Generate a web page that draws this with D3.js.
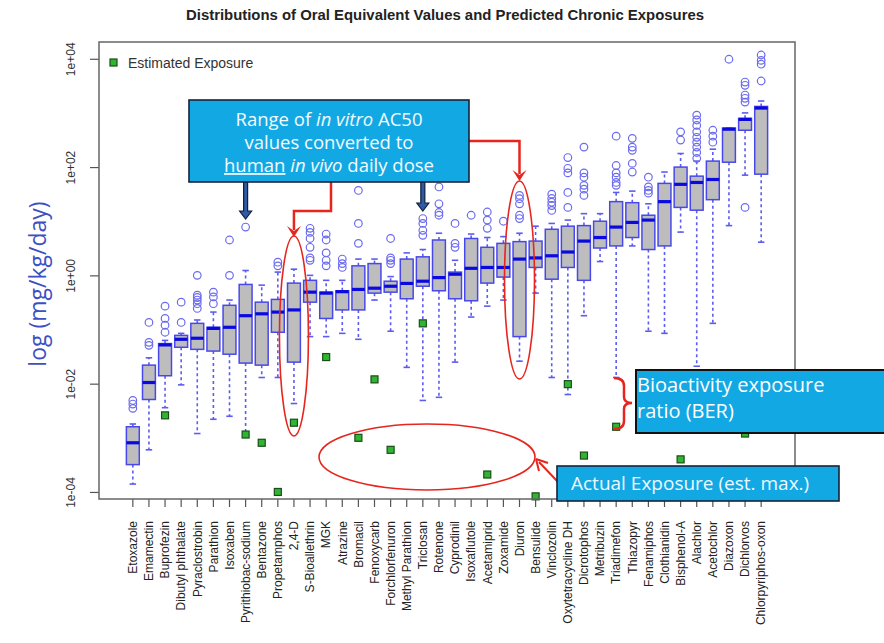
<!DOCTYPE html>
<html>
<head>
<meta charset="utf-8">
<script src="https://cdn.jsdelivr.net/npm/d3@7"></script>
<style>
  html, body { margin: 0; padding: 0; background: #fff; }
  svg { display: block; }
</style>
</head>
<body>
<svg id="chart" width="884" height="643"></svg>
<script>
// Chemicals, ordered by median oral equivalent dose
const categories = ["Etoxazole","Emamectin","Buprofezin","Dibutyl phthalate","Pyraclostrobin","Parathion","Isoxaben","Pyrithiobac-sodium","Bentazone","Propetamphos","2,4-D","S-Bioallethrin","MGK","Atrazine","Bromacil","Fenoxycarb","Forchlorfenuron","Methyl Parathion","Triclosan","Rotenone","Cyprodinil","Isoxaflutole","Acetamiprid","Zoxamide","Diuron","Bensulide","Vinclozolin","Oxytetracycline DH","Dicrotophos","Metribuzin","Triadimefon","Thiazopyr","Fenamiphos","Clothianidin","Bisphenol-A","Alachlor","Acetochlor","Diazoxon","Dichlorvos","Chlorpyriphos-oxon"];

// Box statistics, mg/kg/day
const whiskerLow = [1.4e-4,6.0e-4,3.6e-3,9.5e-3,1.2e-3,2.2e-3,2.5e-3,1.26e-3,0.013,0.013,4.3e-3,0.074,0.074,0.085,0.066,0.35,0.093,0.020,4.9e-3,5.6e-3,0.025,0.17,0.27,0.35,0.026,0.47,0.013,6.3e-3,0.18,1.8,0.013,3.5,0.093,0.085,6.3,0.021,0.13,8.3,71,4.1];
const quartile1 = [3.2e-4,5.1e-3,0.014,0.047,0.043,0.040,0.035,0.024,0.022,0.089,0.025,0.32,0.16,0.23,0.23,0.47,0.49,0.37,0.63,0.52,0.37,0.34,0.72,0.93,0.074,1.4,0.85,1.4,0.81,3.2,3.5,5.0,3.0,3.5,18,16,25,123,479,74];
const medians = [8.1e-4,0.0105,0.052,0.066,0.069,0.105,0.11,0.18,0.195,0.21,0.23,0.49,0.47,0.50,0.55,0.58,0.63,0.71,0.78,0.91,1.05,1.35,1.4,1.4,2.0,2.1,2.3,2.7,4.3,5.0,7.8,9.5,10.5,23,48,52,59,501,759,1230];
const quartile3 = [1.6e-3,0.022,0.055,0.078,0.13,0.11,0.28,0.68,0.32,0.36,0.72,0.81,0.49,0.52,1.5,1.65,0.78,2.0,2.2,4.5,1.15,4.8,3.3,3.9,4.2,4.3,7.1,8.1,8.3,10,23,22,12.9,50,100,68,129,525,794,1318];
const whiskerHigh = [1.8e-3,0.030,0.063,0.085,0.15,0.21,0.35,1.23,0.66,1.15,1.3,1.0,0.81,0.81,2.0,2.0,0.95,2.6,3.0,6.0,1.9,5.8,5.0,5.2,6.0,8.1,9.1,10.5,13.8,13.8,34,36,21,81,178,129,214,525,1000,1660];
const outliers = [
  [3.5e-3,4.2e-3,4.9e-3],
  [0.051,0.058,0.135],
  [0.089,0.12,0.16,0.27],
  [0.135,0.32],
  [0.245,0.30,0.35,0.39,0.43,1.0],
  [0.30,0.40,0.49],
  [1.0,4.5],
  [7.8],
  [],
  [1.5,1.75],
  [],
  [1.9,2.1,3.3,4.8,6.2,7.4],
  [1.5,1.9,2.6,4.5,5.8],
  [1.4,1.65,2.0],
  [3.9,9.1,37],
  [],
  [1.65,1.9,2.1,4.8],
  [],
  [5.5,6.8,9.1,11.2],
  [12.9,14.5,21,43],
  [3.3,3.9,9.1],
  [12.9],
  [7.4,10.5,14.8],
  [10],
  [11.2,12.9,21,26,30],
  [],
  [15.8,19.5,22.4,26.3,31.6],
  [18,34,78,95,150],
  [30,39,46,65,78,234],
  [],
  [46,52,65,78,107,372],
  [81,117,204,234,339],
  [33,37,43,65],
  [],
  [316,447],
  [145,186,234,288,355,447,589,741,912],
  [288,372,479],
  [9800],
  [18,1585,1862,2138,3236,3715],
  [3890,7940,9330,11750]
];
// Estimated (actual) exposure, mg/kg/day; null where none was estimated
const estimatedExposure = [null,null,2.6e-3,null,null,null,null,1.15e-3,8.1e-4,1.0e-4,1.9e-3,null,0.031,null,1.0e-3,0.012,6.0e-4,null,0.13,null,null,null,2.1e-4,null,null,8.3e-5,null,9.8e-3,4.7e-4,null,1.6e-3,null,null,null,4.0e-4,null,null,null,1.2e-3,null];
const yTicks = [1e-4, 1e-2, 1, 1e2, 1e4];
const yTickLabels = ["1e-04", "1e-02", "1e+00", "1e+02", "1e+04"];

const svg = d3.select("#chart");
const plot = { left: 99, top: 42, right: 795, bottom: 499 };

const x = d3.scaleBand()
  .domain(categories)
  .range([plot.left, plot.right])
  .paddingInner(0.2)
  .paddingOuter(1.7);
const bw = x.bandwidth();
const cx = d => x(d) + bw / 2;

const y = d3.scaleLog()
  .domain([Math.pow(10, -4.13), Math.pow(10, 4.31)])
  .range([plot.bottom, plot.top]);

// Title
svg.append("text")
  .attr("x", 445).attr("y", 20)
  .attr("text-anchor", "middle")
  .attr("textLength", 518)
  .attr("lengthAdjust", "spacingAndGlyphs")
  .style("font-family", "Liberation Sans Narrow, Liberation Sans, Arial, sans-serif")
  .style("font-weight", "bold")
  .style("font-size", "14px")
  .attr("fill", "#222")
  .text("Distributions of Oral Equivalent Values and Predicted Chronic Exposures");

// Axes
const yAxis = svg.append("g")
  .attr("transform", `translate(${plot.left},0)`)
  .call(d3.axisLeft(y).tickValues(yTicks).tickSize(9)
    .tickFormat((d, i) => yTickLabels[i]));
yAxis.select(".domain").remove();
yAxis.selectAll("line").attr("stroke", "#555").attr("stroke-width", 1.2);
yAxis.selectAll("text")
  .attr("transform", "rotate(-90)")
  .attr("x", 0).attr("y", -24).attr("dy", 0)
  .style("text-anchor", "middle")
  .style("font-family", "Liberation Sans, Arial, sans-serif")
  .style("font-size", "12px")
  .attr("fill", "#333");

const xAxis = svg.append("g")
  .attr("transform", `translate(0,${plot.bottom})`)
  .call(d3.axisBottom(x).tickSize(8));
xAxis.select(".domain").remove();
xAxis.selectAll("line").attr("stroke", "#555").attr("stroke-width", 1.2);
xAxis.selectAll("text")
  .attr("transform", "rotate(-90)")
  .attr("x", -22).attr("y", 0).attr("dy", "0.36em")
  .style("text-anchor", "end")
  .style("font-family", "Liberation Sans, Arial, sans-serif")
  .style("font-size", "12px")
  .attr("fill", "#222");

// Y axis title
svg.append("text")
  .attr("transform", "translate(46,284) rotate(-90)")
  .attr("text-anchor", "middle")
  .style("font-family", "'Open Sans', Lato, sans-serif")
  .style("font-size", "23px")
  .attr("fill", "#3d4fc2")
  .text("log (mg/kg/day)");

// Box plots
const boxData = categories.map((c, i) => ({
  c, lo: whiskerLow[i], q1: quartile1[i], med: medians[i], q3: quartile3[i],
  hi: whiskerHigh[i], out: outliers[i], exp: estimatedExposure[i]
}));
const g = svg.append("g");
const whiskerColor = "#5c5cf0";

g.selectAll(".whisker-lo").data(boxData).join("line")
  .attr("x1", d => cx(d.c)).attr("x2", d => cx(d.c))
  .attr("y1", d => y(d.q1)).attr("y2", d => y(d.lo))
  .attr("stroke", whiskerColor).attr("stroke-width", 1.6).attr("stroke-dasharray", "3,3");
g.selectAll(".whisker-hi").data(boxData).join("line")
  .attr("x1", d => cx(d.c)).attr("x2", d => cx(d.c))
  .attr("y1", d => y(d.q3)).attr("y2", d => y(d.hi))
  .attr("stroke", whiskerColor).attr("stroke-width", 1.6).attr("stroke-dasharray", "3,3");
["lo", "hi"].forEach(k => {
  g.selectAll(".staple-" + k).data(boxData).join("line")
    .attr("x1", d => cx(d.c) - bw / 4).attr("x2", d => cx(d.c) + bw / 4)
    .attr("y1", d => y(d[k])).attr("y2", d => y(d[k]))
    .attr("stroke", whiskerColor).attr("stroke-width", 1.6);
});
g.selectAll(".box").data(boxData).join("rect")
  .attr("x", d => x(d.c)).attr("width", bw)
  .attr("y", d => y(d.q3)).attr("height", d => Math.max(1, y(d.q1) - y(d.q3)))
  .attr("fill", "#bdbdbd").attr("stroke", "#4848ea").attr("stroke-width", 1.5);
g.selectAll(".median").data(boxData).join("line")
  .attr("x1", d => x(d.c)).attr("x2", d => x(d.c) + bw)
  .attr("y1", d => y(d.med)).attr("y2", d => y(d.med))
  .attr("stroke", "#0a0ae0").attr("stroke-width", 3.2);
g.selectAll(".outliers").data(boxData).join("g")
  .selectAll("circle").data(d => d.out.map(v => ({ c: d.c, v })))
  .join("circle")
  .attr("cx", d => cx(d.c)).attr("cy", d => y(d.v)).attr("r", 3.8)
  .attr("fill", "none").attr("stroke", "#6b6bf0").attr("stroke-width", 1.2);

// Estimated exposure markers
g.selectAll(".exposure").data(boxData.filter(d => d.exp != null)).join("rect")
  .attr("x", d => cx(d.c) - 3.5).attr("y", d => y(d.exp) - 3.5)
  .attr("width", 7).attr("height", 7)
  .attr("fill", "#2fb52f").attr("stroke", "#1b4d1b").attr("stroke-width", 1.2);

// Plot frame
svg.append("rect")
  .attr("x", plot.left).attr("y", plot.top)
  .attr("width", plot.right - plot.left).attr("height", plot.bottom - plot.top)
  .attr("fill", "none").attr("stroke", "#666").attr("stroke-width", 1.5);

// Legend
svg.append("rect").attr("x", 110).attr("y", 59).attr("width", 7).attr("height", 7)
  .attr("fill", "#2fb52f").attr("stroke", "#1b4d1b").attr("stroke-width", 1.2);
svg.append("text").attr("x", 128).attr("y", 68)
  .style("font-family", "Liberation Sans, Arial, sans-serif").style("font-size", "14px")
  .attr("fill", "#333").text("Estimated Exposure");

// Annotations
const ann = svg.append("g");
const red = "#e6261e";
const calloutFill = "#12a8e3";
const calloutFont = "'Open Sans', Lato, sans-serif";

// red ellipses around highlighted distributions
const i24D = cx("2,4-D"), iDiuron = cx("Diuron");
ann.append("ellipse").attr("cx", i24D).attr("cy", 336).attr("rx", 14.5).attr("ry", 100)
  .attr("fill", "none").attr("stroke", red).attr("stroke-width", 1.6);
ann.append("ellipse").attr("cx", iDiuron).attr("cy", 280).attr("rx", 15).attr("ry", 99)
  .attr("fill", "none").attr("stroke", red).attr("stroke-width", 1.6);
ann.append("ellipse").attr("cx", 427).attr("cy", 457).attr("rx", 108).attr("ry", 33)
  .attr("fill", "none").attr("stroke", red).attr("stroke-width", 1.6);

// red connectors from the callout
const redHead = (tx, ty) => `M${tx - 7},${ty - 11} L${tx},${ty} L${tx + 7},${ty - 11} L${tx},${ty - 6} Z`;
ann.append("path").attr("d", `M331,182 V211 H${i24D} V230`)
  .attr("fill", "none").attr("stroke", red).attr("stroke-width", 2.5);
ann.append("path").attr("d", redHead(i24D, 237)).attr("fill", red);
ann.append("path").attr("d", `M469,141 H${iDiuron} V174`)
  .attr("fill", "none").attr("stroke", red).attr("stroke-width", 2.5);
ann.append("path").attr("d", redHead(iDiuron, 181)).attr("fill", red);

// navy arrows from the callout
[cx("Pyrithiobac-sodium"), cx("Triclosan")].forEach((ax, k) => {
  const tip = k === 0 ? 219 : 211;
  ann.append("path")
    .attr("d", `M${ax - 2},182 V${tip - 8} H${ax - 6} L${ax},${tip} L${ax + 6},${tip - 8} H${ax + 2} V182 Z`)
    .attr("fill", "#2e5aa6").attr("stroke", "#10203f").attr("stroke-width", 1.2);
});

// callout: range of AC50 values
ann.append("rect").attr("x", 189).attr("y", 100).attr("width", 280).attr("height", 82)
  .attr("fill", calloutFill).attr("stroke", "#17243a").attr("stroke-width", 1.6);
const callText = (yy) => ann.append("text").attr("x", 329).attr("y", yy).attr("text-anchor", "middle")
  .style("font-family", calloutFont).style("font-size", "18.5px").attr("fill", "#f4fbff");
const t1 = callText(126);
t1.append("tspan").text("Range of ");
t1.append("tspan").style("font-style", "italic").text("in vitro");
t1.append("tspan").text(" AC50");
callText(149).text("values converted to");
const t3 = callText(172);
t3.append("tspan").style("text-decoration", "underline").text("human");
t3.append("tspan").text(" ");
t3.append("tspan").style("font-style", "italic").text("in vivo");
t3.append("tspan").text(" daily dose");

// bracket marking the bioactivity exposure ratio
ann.append("path")
  .attr("d", "M614,378 Q624,378 624,386 V397 Q624,403 632,403 Q624,403 624,409 V421 Q624,429 614,429")
  .attr("fill", "none").attr("stroke", red).attr("stroke-width", 2.5);

// arrow to the actual exposure ellipse
ann.append("line").attr("x1", 558).attr("y1", 482).attr("x2", 539).attr("y2", 462)
  .attr("stroke", red).attr("stroke-width", 2);
ann.append("path").attr("d", "M536,459 L548,463 M536,459 L539,471")
  .attr("stroke", red).attr("stroke-width", 2).attr("fill", "none");

// callout: BER
ann.append("rect").attr("x", 636).attr("y", 370).attr("width", 260).attr("height", 63)
  .attr("fill", calloutFill).attr("stroke", "#111").attr("stroke-width", 2);
ann.append("text").attr("x", 637).attr("y", 392)
  .style("font-family", calloutFont).style("font-size", "20px").attr("fill", "#fff")
  .text("Bioactivity exposure");
ann.append("text").attr("x", 637).attr("y", 418)
  .style("font-family", calloutFont).style("font-size", "20px").attr("fill", "#fff")
  .text("ratio (BER)");

// callout: actual exposure
ann.append("rect").attr("x", 557).attr("y", 466).attr("width", 282).attr("height", 35)
  .attr("fill", calloutFill).attr("stroke", "#17243a").attr("stroke-width", 1.6);
ann.append("text").attr("x", 571).attr("y", 490)
  .style("font-family", calloutFont).style("font-size", "19px").attr("fill", "#eef8ff")
  .text("Actual Exposure (est. max.)");
</script>
</body>
</html>
